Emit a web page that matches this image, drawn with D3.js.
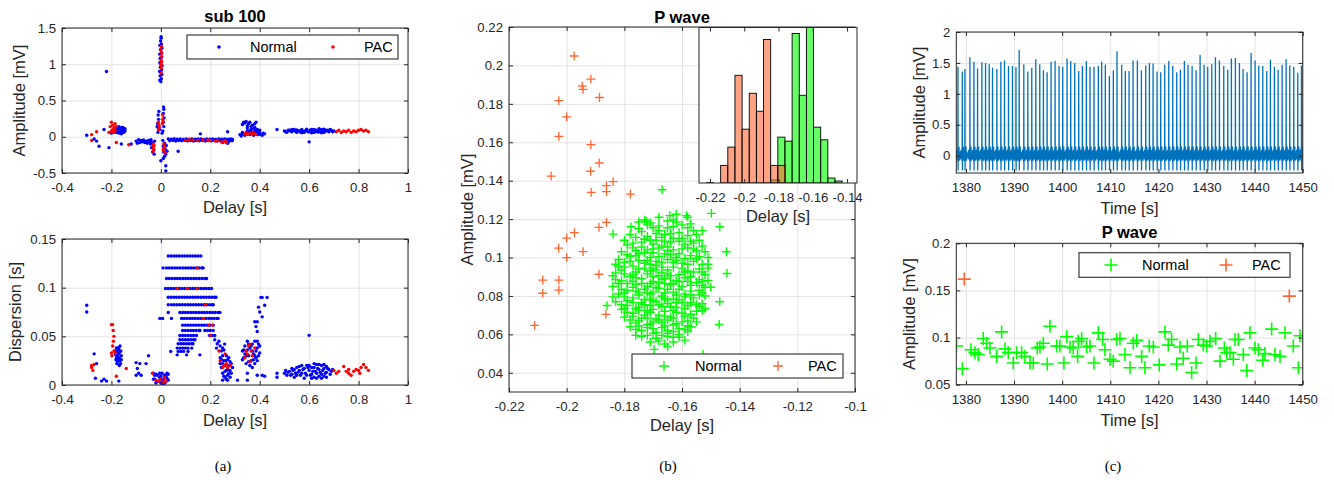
<!DOCTYPE html>
<html>
<head>
<meta charset="utf-8">
<script src="https://cdn.jsdelivr.net/npm/d3@7"></script>
<style>
  body { margin: 0; background: #fff; }
  text { font-family: "Liberation Sans", Arial, Helvetica, sans-serif; }
</style>
</head>
<body>
<div class="content"></div>
<script>
// ---------- data: panel (a) top, amplitude vs delay ----------
const aTopNormal = [
  [-0.004,0.78],[0.002,0.8],[-0.003,0.84],[0.004,0.86],[-0.005,0.9],[0.003,0.92],[-0.002,0.96],[0.005,0.98],
  [-0.004,1.02],[0.002,1.04],[-0.003,1.08],[0.004,1.1],[-0.005,1.14],[0.003,1.16],[-0.002,1.2],[0.004,1.22],
  [-0.004,1.26],[0.002,1.28],[-0.001,1.32],[0.001,1.36],[0,0.76],[0.001,1.38],
  [-0.012,0.06],[-0.01,0.12],[-0.013,0.18],[-0.009,0.24],[-0.011,0.3],[-0.008,0.35],[0.008,0.08],[0.012,0.14],
  [0.01,0.2],[0.013,0.26],[0.01,0.32],[0.012,0.38],[0.011,0.41],[-0.005,0.1],[0.005,0.05],[-0.015,0.14],
  [-0.04,-0.04],[-0.035,-0.08],[-0.03,-0.12],[-0.038,-0.15],[-0.028,-0.18],[-0.033,-0.21],[-0.027,-0.24],[-0.042,-0.1],[-0.025,-0.06],
  [0.008,-0.05],[0.015,-0.09],[0.01,-0.13],[0.018,-0.17],[0.012,-0.21],[0.02,-0.24],[0.015,-0.27],[0.022,-0.12],
  [0.025,-0.2],[0,-0.33],[0.02,-0.4],[0.02,-0.47],[0.01,-0.3],
  [0.03,-0.03],[0.042,-0.035],[0.054,-0.028],[0.066,-0.033],[0.078,-0.03],[0.09,-0.036],[0.102,-0.031],[0.114,-0.034],
  [0.126,-0.029],[0.138,-0.035],[0.15,-0.032],[0.162,-0.03],[0.174,-0.036],[0.186,-0.031],[0.198,-0.034],[0.21,-0.03],
  [0.222,-0.036],[0.234,-0.032],[0.246,-0.035],[0.258,-0.03],[0.27,-0.034],[0.282,-0.031],[0.29,-0.038],
  [0.036,-0.055],[0.048,-0.05],[0.06,-0.058],[0.072,-0.052],[0.084,-0.056],[0.096,-0.05],[0.108,-0.057],[0.12,-0.053],
  [0.132,-0.058],[0.144,-0.051],[0.156,-0.056],[0.168,-0.052],[0.18,-0.058],[0.192,-0.053],[0.204,-0.057],[0.216,-0.05],
  [0.228,-0.058],[0.24,-0.054],[0.252,-0.06],[0.264,-0.056],[0.276,-0.062],[0.288,-0.055],
  [0.16,0.04],[0.27,0.07],[0.07,-0.2],[0.25,-0.08],[0.27,-0.09],
  [-0.1,-0.06],[-0.09,-0.04],[-0.08,-0.05],[-0.07,-0.045],[-0.06,-0.06],[-0.05,-0.05],[-0.095,-0.09],[-0.085,-0.08],
  [-0.075,-0.07],[-0.065,-0.08],[-0.055,-0.09],[-0.045,-0.07],
  [-0.18,0.06],[-0.175,0.1],[-0.17,0.14],[-0.165,0.08],[-0.16,0.12],[-0.155,0.06],[-0.15,0.1],[-0.17,0.05],
  [-0.16,0.04],[-0.155,0.13],[-0.185,0.12],[-0.145,0.08],[-0.175,0.07],[-0.165,0.11],
  [-0.178,0.09],[-0.172,0.12],[-0.168,0.06],[-0.162,0.1],[-0.158,0.08],[-0.152,0.12],[-0.148,0.1],[-0.17,0.1],
  [-0.16,0.06],[-0.155,0.09],[-0.165,0.13],[-0.175,0.13],[-0.15,0.06],[-0.145,0.11],
  [-0.3,0.02],[-0.27,-0.03],[-0.25,-0.13],[-0.21,-0.15],[-0.16,-0.1],[-0.23,0.1],[-0.22,0.9],[-0.26,-0.06],[-0.12,-0.1],[-0.2,0.05],
  [0.32,0.03],[0.33,0.06],[0.335,0.2],[0.345,0.21],[0.35,0.12],[0.355,0.18],[0.36,0.08],[0.365,0.14],[0.37,0.04],
  [0.375,0.11],[0.38,0.07],[0.385,0.2],[0.39,0.1],[0.395,0.03],[0.4,0.06],[0.41,0.02],[0.42,0.04],[0.325,0.01],
  [0.34,0.02],[0.355,0.05],[0.37,0.16],[0.38,0.13],[0.33,0.17],[0.4,0.09],[0.415,0.05],[0.39,0.06],
  [0.33,0.04],[0.345,0.05],[0.36,0.03],[0.375,0.02],[0.39,0.04],[0.405,0.03],[0.35,0.08],[0.365,0.1],
  [0.37,0.06],[0.385,0.09],[0.34,0.19],[0.36,0.2],[0.38,0.18],[0.35,0.15],
  [0.47,0.1],[0.5,0.08],[0.51,0.06],[0.52,0.09],[0.53,0.07],[0.54,0.1],[0.55,0.06],[0.56,0.08],[0.57,0.1],
  [0.58,0.06],[0.59,0.09],[0.6,0.07],[0.61,0.1],[0.62,0.06],[0.63,0.09],[0.64,0.07],[0.65,0.1],[0.66,0.06],
  [0.67,0.08],[0.68,0.07],[0.69,0.09],[0.7,0.08],[0.525,0.08],[0.545,0.075],[0.565,0.065],[0.585,0.085],
  [0.605,0.095],[0.625,0.075],[0.645,0.085],[0.665,0.095],[0.6,-0.07],
  [0.505,0.07],[0.515,0.09],[0.535,0.09],[0.555,0.085],[0.575,0.075],[0.595,0.07],[0.615,0.08],[0.635,0.065],
  [0.655,0.07],[0.675,0.09],[0.685,0.1],[0.695,0.07],[0.53,0.1],[0.59,0.105],[0.62,0.1],[0.64,0.11],[0.66,0.105],
  [0.55,0.095],[0.57,0.055],[0.61,0.055],[0.65,0.055]
];
const aTopPAC = [
  [0.001,0.88],[0.002,0.94],[0,1],[0.002,1.05],[0.001,1.1],[0.003,1.15],[0,1.2],[0.002,1.25],[0.001,0.98],[0.003,1.03],
  [-0.01,0.1],[-0.008,0.16],[-0.01,0.2],[0.006,0.18],[0.008,0.24],[0.007,0.3],[-0.006,0.13],[0.009,0.21],
  [-0.03,-0.1],[-0.032,-0.14],[-0.029,-0.17],[-0.031,-0.2],[-0.027,-0.12],
  [0.012,-0.1],[0.015,-0.14],[0.01,-0.18],[0.017,-0.22],[0.013,-0.16],
  [0.1,-0.05],[0.13,-0.045],[0.15,-0.05],[0.17,-0.04],[0.19,-0.045],[0.2,-0.05],[0.22,-0.06],[0.23,-0.055],
  [0.245,-0.07],[0.255,-0.065],[0.265,-0.08],[0.26,-0.055],[0.115,-0.04],
  [-0.2,0.2],[-0.195,0.16],[-0.19,0.12],[-0.2,0.08],[-0.185,0.18],[-0.205,0.14],[-0.19,0.06],[-0.195,0.1],
  [-0.18,0.14],[-0.21,0.06],[-0.185,0.09],
  [-0.28,0.03],[-0.28,-0.05],[-0.26,0.07],[-0.18,-0.08],[-0.13,-0.11],
  [0.34,0.04],[0.35,0.03],[0.36,0.05],[0.37,0.04],[0.385,0.03],[0.345,0.06],[0.375,0.05],
  [0.71,0.07],[0.72,0.09],[0.73,0.06],[0.74,0.08],[0.75,0.07],[0.76,0.09],[0.77,0.06],[0.78,0.08],
  [0.79,0.07],[0.8,0.09],[0.81,0.1],[0.82,0.08],[0.83,0.09],[0.84,0.07]
];

// ---------- data: panel (a) bottom, dispersion vs delay ----------
const aBotNormal = [
  [-0.3,0.082],[-0.3,0.075],[-0.27,0.032],[-0.26,0.022],[-0.265,0.007],[-0.24,0.004],[-0.23,0.006],[-0.22,0.004],[-0.17,0.004],
  [-0.185,0.035],[-0.18,0.028],[-0.175,0.038],[-0.17,0.032],[-0.165,0.025],[-0.16,0.03],[-0.178,0.022],[-0.168,0.02],
  [-0.172,0.036],[-0.162,0.035],[-0.175,0.03],[-0.182,0.026],[-0.165,0.04],
  [-0.183,0.031],[-0.178,0.034],[-0.173,0.026],[-0.168,0.028],[-0.163,0.022],[-0.17,0.038],[-0.176,0.024],
  [-0.16,0.026],[-0.166,0.034],[-0.18,0.038],
  [-0.1,0.023],[-0.095,0.017],[-0.09,0.012],[-0.085,0.022],[-0.08,0.01],[-0.1,0.01],[-0.05,0.03],[-0.06,0.022],
  [-0.03,0.012],[-0.025,0.006],[-0.02,0.002],[-0.015,0.01],[-0.01,0.004],[-0.005,0.008],[0,0.002],[0.005,0.012],
  [0.01,0.006],[0.015,0.01],[0.02,0.003],[0.025,0.012],[0.03,0.005],[-0.02,0.011],[0.01,0.001],
  [-0.025,0.01],[-0.015,0.004],[-0.005,0.012],[0.005,0.004],[0.015,0.002],[0.025,0.007],[-0.03,0.006],[0,0.009],
  [0.02,0.009],[0.03,0.011],
  [0.235,0.045],[0.24,0.04],[0.245,0.035],[0.25,0.03],[0.24,0.028],[0.255,0.025],[0.26,0.02],[0.265,0.015],
  [0.27,0.01],[0.275,0.02],[0.28,0.015],[0.285,0.022],[0.29,0.018],[0.25,0.012],[0.26,0.008],[0.27,0.005],
  [0.255,0.036],[0.265,0.03],[0.275,0.028],[0.245,0.018],[0.258,0.042],[0.28,0.008],[0.24,0.022],[0.25,0.005],[0.262,0.025],
  [0.25,0.022],[0.26,0.014],[0.27,0.016],[0.28,0.024],[0.265,0.006],[0.255,0.009],[0.285,0.012],[0.27,0.026],
  [0.245,0.026],[0.25,0.038],[0.275,0.012],
  [0.33,0.035],[0.335,0.028],[0.34,0.04],[0.345,0.022],[0.35,0.045],[0.355,0.03],[0.36,0.038],[0.365,0.025],
  [0.37,0.042],[0.375,0.032],[0.38,0.045],[0.385,0.028],[0.39,0.038],[0.395,0.03],[0.34,0.032],[0.36,0.02],
  [0.38,0.022],[0.33,0.026],[0.37,0.018],[0.35,0.036],[0.39,0.045],[0.4,0.04],
  [0.345,0.03],[0.355,0.024],[0.365,0.04],[0.375,0.026],[0.385,0.035],[0.395,0.042],[0.37,0.035],[0.38,0.03],
  [0.39,0.025],[0.4,0.033],[0.355,0.042],[0.335,0.036],
  [0.39,0.055],[0.385,0.06],[0.39,0.065],[0.4,0.075],[0.395,0.08],[0.405,0.09],[0.41,0.09],[0.43,0.09],[0.42,0.082],
  [0.41,0.07],[0.38,0.065],
  [0.35,0.012],[0.39,0.01],[0.41,0.01],[0.42,0.009],[0.35,0.005],[0.31,0.005],[0.47,0.012],[0.47,0.008],
  [0.5,0.012],[0.51,0.01],[0.52,0.014],[0.53,0.011],[0.54,0.016],[0.55,0.01],[0.56,0.015],[0.57,0.012],
  [0.58,0.017],[0.59,0.01],[0.6,0.015],[0.61,0.011],[0.62,0.018],[0.63,0.012],[0.64,0.016],[0.65,0.011],
  [0.66,0.017],[0.67,0.013],[0.68,0.016],[0.69,0.014],[0.54,0.008],[0.56,0.019],[0.58,0.007],[0.6,0.02],
  [0.62,0.008],[0.63,0.021],[0.64,0.009],[0.65,0.02],[0.66,0.009],[0.67,0.019],[0.6,0.051],[0.555,0.013],
  [0.595,0.018],[0.615,0.014],[0.635,0.017],[0.655,0.015],
  [0.505,0.015],[0.515,0.013],[0.525,0.01],[0.535,0.015],[0.545,0.012],[0.565,0.01],[0.575,0.016],[0.585,0.012],
  [0.605,0.01],[0.625,0.014],[0.645,0.013],[0.665,0.012],[0.675,0.017],[0.685,0.011],[0.695,0.016],[0.57,0.02],
  [0.59,0.02],[0.61,0.018],[0.61,0.007],[0.63,0.007],[0.65,0.007],[0.67,0.008],[0.62,0.022],[0.64,0.021],
  [0.66,0.021],[0.55,0.018],[0.53,0.017]
];
// the quantised "tower" of dispersion levels: [dispersion, delays on that level]
const aBotTowerRows = [
  [0.1326,[0.03,0.041,0.052,0.063,0.074,0.085,0.096,0.107,0.118,0.129,0.14,0.151,0.162]],
  [0.1203,[0.009,0.023,0.034,0.045,0.056,0.067,0.078,0.089,0.1,0.111,0.122,0.133,0.144,0.155,0.166,0.171]],
  [0.1094,[0.023,0.034,0.045,0.056,0.067,0.078,0.089,0.1,0.111,0.122,0.133,0.144,0.155,0.166,0.177,0.185]],
  [0.0991,[0.019,0.03,0.041,0.052,0.063,0.074,0.085,0.096,0.107,0.118,0.129,0.14,0.151,0.162,0.173,0.184,0.195,0.205]],
  [0.0902,[0.03,0.041,0.052,0.063,0.074,0.085,0.096,0.107,0.118,0.129,0.14,0.151,0.162,0.173,0.184,0.195,0.206,0.217,0.223]],
  [0.0824,[0.03,0.043,0.054,0.065,0.076,0.087,0.098,0.109,0.12,0.131,0.142,0.153,0.164,0.175,0.186,0.197,0.208,0.212]],
  [0.0745,[0.03,0.077,0.088,0.099,0.11,0.121,0.132,0.143,0.154,0.165,0.176,0.187,0.198,0.209,0.22,0.231,0.239]],
  [0.0684,[-0.004,0.007,0.043,0.084,0.095,0.106,0.117,0.128,0.139,0.15,0.161,0.172,0.183,0.194,0.205,0.216,0.227,0.232]],
  [0.0615,[0.088,0.099,0.11,0.121,0.132,0.143,0.154,0.165,0.176,0.187,0.198,0.212]],
  [0.056,[0.088,0.099,0.11,0.121,0.132,0.143,0.154,0.158,0.178,0.189,0.2,0.212]],
  [0.0509,[0.077,0.088,0.099,0.11,0.121,0.132,0.144,0.197,0.208,0.218]],
  [0.0465,[0.077,0.088,0.099,0.11,0.121,0.132,0.138,0.218]],
  [0.0424,[0.07,0.081,0.092,0.103,0.114,0.125,0.13,0.228]],
  [0.0379,[0.066,0.077,0.088,0.099,0.11,0.125,0.225]],
  [0.0345,[0.04,0.07,0.081,0.092,0.11]],
  [0.031,[0.066,0.104,0.158]]
];
const aBotPAC = [
  [0.24,0.025],[0.255,0.02],[0.265,0.022],[0.27,0.018],[0.26,0.032],[0.28,0.02],[0.25,0.018],
  [0.34,0.028],[0.35,0.032],[0.355,0.04],[0.36,0.042],[0.365,0.035],[0.37,0.03],[0.38,0.038],[0.36,0.024],[0.345,0.035],
  [0.7,0.015],[0.71,0.012],[0.72,0.014],[0.74,0.019],[0.75,0.014],[0.76,0.012],[0.77,0.01],[0.78,0.014],
  [0.79,0.016],[0.8,0.015],[0.81,0.018],[0.82,0.021],[0.83,0.018],[0.84,0.015],[0.76,0.016],[0.805,0.012],
  [-0.034,0.012],[-0.02,0.005],[-0.01,0.004],[0,0.006],[0.01,0.003],[0.015,0.008],[0.02,0.004],
  [-0.2,0.062],[-0.195,0.062],[-0.193,0.056],[-0.19,0.05],[-0.192,0.045],[-0.195,0.04],[-0.2,0.033],[-0.19,0.035],
  [-0.198,0.03],[-0.185,0.033],
  [-0.28,0.018],[-0.275,0.015],[-0.28,0.02],[-0.27,0.021],[-0.14,0.017],[-0.18,0.009],
  [0.066,0.0991],[0.107,0.0991],[0.146,0.0991],[0.147,0.1203],[0.181,0.0824],[0.171,0.0684],[0.194,0.0615],
  [0.209,0.0615],[0.2,0.0509],[0.235,0.035]
];

// ---------- data: panel (b), P wave amplitude vs delay ----------
const bNormal = [
  [-0.171,0.118],[-0.165,0.119],[-0.16,0.117],[-0.158,0.121],[-0.168,0.121],
  [-0.175,0.115],[-0.168,0.114],[-0.163,0.116],[-0.156,0.114],[-0.161,0.113],[-0.172,0.117],
  [-0.178,0.112],[-0.172,0.111],[-0.166,0.112],[-0.16,0.11],[-0.155,0.112],[-0.169,0.109],[-0.163,0.11],
  [-0.18,0.109],[-0.174,0.108],[-0.17,0.107],[-0.164,0.108],[-0.159,0.107],[-0.154,0.109],[-0.167,0.106],
  [-0.177,0.105],[-0.172,0.104],[-0.168,0.105],[-0.163,0.104],[-0.158,0.105],[-0.153,0.106],[-0.175,0.102],[-0.161,0.102],
  [-0.181,0.103],[-0.176,0.101],[-0.171,0.1],[-0.166,0.102],[-0.162,0.1],[-0.157,0.101],[-0.152,0.103],[-0.169,0.098],
  [-0.182,0.099],[-0.178,0.098],[-0.173,0.097],[-0.169,0.096],[-0.165,0.099],[-0.16,0.097],[-0.156,0.098],[-0.151,0.1],[-0.167,0.095],
  [-0.18,0.095],[-0.175,0.094],[-0.171,0.093],[-0.167,0.092],[-0.163,0.095],[-0.158,0.093],[-0.154,0.094],[-0.177,0.091],[-0.161,0.091],
  [-0.183,0.092],[-0.178,0.09],[-0.174,0.089],[-0.17,0.09],[-0.166,0.089],[-0.162,0.088],[-0.157,0.09],[-0.152,0.091],[-0.168,0.087],
  [-0.181,0.088],[-0.176,0.086],[-0.172,0.085],[-0.168,0.084],[-0.164,0.086],[-0.16,0.085],[-0.155,0.087],[-0.151,0.088],[-0.17,0.082],
  [-0.184,0.085],[-0.179,0.083],[-0.175,0.082],[-0.171,0.081],[-0.167,0.08],[-0.163,0.082],[-0.159,0.081],[-0.154,0.083],[-0.165,0.078],
  [-0.182,0.081],[-0.177,0.079],[-0.173,0.078],[-0.169,0.077],[-0.165,0.076],[-0.161,0.078],[-0.156,0.079],[-0.152,0.08],[-0.171,0.075],
  [-0.183,0.077],[-0.179,0.075],[-0.175,0.074],[-0.17,0.073],[-0.166,0.072],[-0.162,0.074],[-0.158,0.075],[-0.153,0.076],[-0.168,0.07],
  [-0.181,0.073],[-0.177,0.071],[-0.173,0.07],[-0.169,0.068],[-0.164,0.069],[-0.16,0.071],[-0.155,0.072],[-0.175,0.067],
  [-0.18,0.069],[-0.176,0.066],[-0.172,0.065],[-0.167,0.066],[-0.163,0.065],[-0.158,0.067],[-0.17,0.063],
  [-0.178,0.064],[-0.174,0.062],[-0.169,0.061],[-0.165,0.062],[-0.161,0.063],[-0.157,0.064],
  [-0.174,0.059],[-0.169,0.058],[-0.165,0.059],[-0.161,0.06],[-0.171,0.056],[-0.166,0.055],[-0.163,0.056],[-0.159,0.057],
  [-0.168,0.1165],[-0.162,0.1185],[-0.174,0.1135],[-0.165,0.1155],[-0.158,0.1155],[-0.153,0.114],
  [-0.176,0.1105],[-0.169,0.1125],[-0.158,0.1115],[-0.164,0.1125],
  [-0.177,0.1075],[-0.171,0.109],[-0.166,0.1085],[-0.161,0.1085],[-0.156,0.1075],
  [-0.179,0.1065],[-0.174,0.1055],[-0.165,0.1055],[-0.16,0.1045],[-0.155,0.1035],[-0.17,0.1025],
  [-0.179,0.1015],[-0.173,0.1025],[-0.168,0.1005],[-0.164,0.1015],[-0.159,0.0995],[-0.154,0.1005],
  [-0.18,0.0975],[-0.175,0.0985],[-0.171,0.0965],[-0.167,0.0975],[-0.162,0.0985],[-0.158,0.0965],[-0.153,0.0965],
  [-0.182,0.0955],[-0.177,0.0955],[-0.173,0.0945],[-0.169,0.0935],[-0.165,0.0935],[-0.16,0.0945],[-0.156,0.0925],[-0.151,0.0945],
  [-0.18,0.0915],[-0.176,0.0895],[-0.172,0.0915],[-0.168,0.0905],[-0.164,0.0905],[-0.159,0.0895],[-0.154,0.0885],
  [-0.183,0.0885],[-0.179,0.0865],[-0.174,0.0865],[-0.17,0.0875],[-0.166,0.0865],[-0.161,0.0875],[-0.157,0.0855],[-0.153,0.0855],
  [-0.181,0.0835],[-0.177,0.0845],[-0.173,0.0835],[-0.169,0.0845],[-0.165,0.0835],[-0.161,0.0835],[-0.157,0.0825],[-0.152,0.0845],
  [-0.18,0.0795],[-0.175,0.0805],[-0.171,0.0785],[-0.167,0.0795],[-0.163,0.0785],[-0.159,0.0795],[-0.154,0.0805],
  [-0.181,0.0755],[-0.177,0.0765],[-0.173,0.0755],[-0.168,0.0755],[-0.164,0.0745],[-0.16,0.0765],[-0.155,0.0755],
  [-0.179,0.0715],[-0.175,0.0725],[-0.171,0.0715],[-0.166,0.0695],[-0.162,0.0715],[-0.157,0.0705],[-0.153,0.0725],
  [-0.178,0.0675],[-0.174,0.0685],[-0.17,0.0665],[-0.165,0.0675],[-0.16,0.0665],[-0.156,0.0685],
  [-0.176,0.0625],[-0.172,0.0635],[-0.167,0.0635],[-0.163,0.0615],[-0.159,0.0625],
  [-0.172,0.0595],[-0.167,0.0595],[-0.163,0.0585],[-0.168,0.0565],
  [-0.17,0.1155],[-0.163,0.1195],[-0.157,0.1175],[-0.173,0.1095],[-0.167,0.1105],[-0.157,0.1085],[-0.176,0.1035],
  [-0.17,0.1045],[-0.165,0.1035],[-0.156,0.1045],[-0.178,0.1005],[-0.172,0.0985],[-0.163,0.0975],[-0.155,0.0995],
  [-0.181,0.0935],[-0.176,0.0925],[-0.17,0.0945],[-0.165,0.0915],[-0.159,0.0925],[-0.153,0.0925],[-0.182,0.0865],
  [-0.177,0.0875],[-0.171,0.0865],[-0.167,0.0885],[-0.163,0.0865],[-0.158,0.0875],[-0.153,0.0875],[-0.18,0.0815],
  [-0.176,0.0825],[-0.172,0.0815],[-0.166,0.0815],[-0.162,0.0805],[-0.157,0.0805],[-0.153,0.0815],[-0.179,0.0775],
  [-0.174,0.0765],[-0.17,0.0775],[-0.166,0.0785],[-0.162,0.0765],[-0.157,0.0765],[-0.18,0.0735],[-0.176,0.0735],
  [-0.172,0.0725],[-0.167,0.0745],[-0.163,0.0725],[-0.159,0.0735],[-0.154,0.0745],[-0.177,0.0695],[-0.172,0.0685],
  [-0.168,0.0675],[-0.163,0.0685],[-0.159,0.0695],[-0.175,0.0645],[-0.171,0.0655],[-0.166,0.0645],[-0.162,0.0655],
  [-0.158,0.0645],[-0.17,0.0605],[-0.165,0.0605],[-0.161,0.0585],[-0.173,0.1195],[-0.151,0.0965],[-0.15,0.0845],
  [-0.184,0.0905],[-0.184,0.0795],[-0.183,0.0965],[-0.152,0.0735],[-0.155,0.0665],[-0.158,0.0615],[-0.176,0.0595],
  [-0.165,0.0535],[-0.186,0.075],[-0.162,0.1225],[-0.175,0.1185],
  [-0.1669,0.1353],[-0.1498,0.123],[-0.1469,0.116],[-0.1446,0.103],[-0.1444,0.0917],[-0.1469,0.077],[-0.1471,0.0652],
  [-0.1697,0.0522],[-0.1839,0.1122],[-0.1777,0.116],[-0.1723,0.1188],[-0.1527,0.0496],[-0.1585,0.1218],[-0.1642,0.1218]
];
const bPAC = [
  [-0.1974,0.2049],[-0.1916,0.1929],[-0.1946,0.1892],[-0.1943,0.1875],[-0.1886,0.1833],[-0.2027,0.1817],[-0.2,0.1732],
  [-0.2027,0.1631],[-0.1916,0.1588],[-0.1887,0.1492],[-0.1917,0.1449],[-0.2054,0.1424],[-0.1839,0.1395],[-0.1862,0.1374],
  [-0.1915,0.1339],[-0.1862,0.1343],[-0.1779,0.133],[-0.1862,0.1183],[-0.1888,0.1157],[-0.1973,0.113],[-0.2,0.1101],
  [-0.1943,0.1031],[-0.2028,0.1049],[-0.2,0.1],[-0.1888,0.0913],[-0.2083,0.0882],[-0.2027,0.0882],[-0.2027,0.083],
  [-0.2083,0.0814],[-0.1864,0.0704],[-0.2111,0.0647]
];
// inset histogram of delays (bar heights in relative counts)
const histStart = -0.2221;
const histBinWidth = 0.00417;
const histNormal = [0,0,0,0,0,0,0,0,0,9,138,126,450,264,480,168,130,15,6];
const histPAC    = [1,0,53,108,324,162,270,216,432,53,53,0,0,0,0,0,0,0,0];

// ---------- data: panel (c) top, ECG ----------
const ecgBeatTimes = [1378.34,1379.24,1379.79,1380.83,1381.66,1382.42,1383.32,1384.08,1384.84,1385.53,1386.43,1387.26,1388.02,1388.85,1389.68,1390.4,1391.07,1392.03,1392.86,1393.69,1394.52,1395.35,1396.11,1396.87,1397.7,1398.53,1399.36,1400.12,1401.02,1401.78,1402.61,1403.44,1404.21,1405.03,1405.79,1406.62,1407.52,1408.22,1408.98,1409.81,1410.64,1411.4,1412.37,1413.13,1413.91,1414.74,1415.64,1416.47,1417.37,1418.14,1418.9,1419.73,1420.49,1421.32,1422.16,1422.99,1423.82,1424.58,1425.41,1426.17,1427.01,1427.84,1428.67,1429.5,1430.26,1431.1,1431.86,1432.69,1433.59,1434.42,1435.18,1436.01,1436.85,1437.61,1438.44,1439.27,1440.1,1440.87,1441.7,1442.53,1443.29,1444.12,1444.89,1445.72,1446.55,1447.31,1448.14,1448.97,1449.74];
const ecgRPeaks = [1.44,1.36,1.4,1.59,1.52,1.41,1.51,1.5,1.48,1.42,1.4,1.52,1.54,1.45,1.45,1.43,1.71,1.48,1.36,1.42,1.56,1.48,1.38,1.35,1.52,1.53,1.45,1.44,1.57,1.53,1.5,1.37,1.45,1.53,1.44,1.44,1.45,1.52,1.47,1.29,1.38,1.69,1.47,1.37,1.37,1.54,1.54,1.38,1.46,1.5,1.49,1.36,1.35,1.47,1.53,1.45,1.35,1.39,1.53,1.47,1.45,1.38,1.63,1.47,1.44,1.48,1.59,1.54,1.45,1.39,1.57,1.58,1.5,1.4,1.35,1.66,1.54,1.46,1.45,1.37,1.55,1.44,1.39,1.47,1.56,1.46,1.44,1.34,1.46];
// samples around each R peak: [seconds from R peak, mV]; null marks the R peak itself
const ecgBeatShape = [[-0.41,0.01],[-0.37,-0.05],[-0.33,0.07],[-0.29,-0.03],[-0.25,0.09],[-0.21,-0.06],[-0.17,0.05],
  [-0.13,-0.02],[-0.09,0.12],[-0.05,-0.04],[-0.02,-0.1],[0,null],[0.03,-0.24],[0.06,0.04],[0.1,-0.07],[0.14,0.08],
  [0.18,-0.03],[0.22,0.15],[0.26,-0.05],[0.3,0.07],[0.34,-0.08],[0.38,0.05]];

// ---------- data: panel (c) bottom, P wave amplitude vs time ----------
const pNormalTime = [1378.06,1379.24,1381.04,1381.87,1382.56,1383.6,1384.3,1384.99,1386.38,1387.42,1388.11,1388.8,1389.84,1390.53,1391.57,1392.27,1393.31,1394,1394.83,1395.38,1396.08,1396.91,1397.46,1398.85,1399.54,1400.37,1400.93,1401.62,1402.31,1403.22,1403.35,1404.05,1405.09,1405.78,1406.61,1407.51,1408.41,1408.9,1409.94,1410.63,1411.32,1412.02,1413.06,1414.1,1414.79,1415.48,1416.52,1417.21,1418.11,1418.95,1420.19,1421.37,1422.06,1422.76,1423.8,1424.49,1425.18,1426.01,1426.92,1427.82,1428.3,1429.34,1430.03,1430.73,1431.91,1432.81,1433.71,1434.19,1434.89,1435.58,1435.93,1436.62,1437.66,1438.35,1439.04,1440.08,1440.78,1441.68,1442.16,1443.55,1444.24,1445.28,1446.32,1448.05,1449.09,1449.44];
const pNormalAmp = [0.091,0.067,0.087,0.084,0.082,0.099,0.094,0.089,0.08,0.106,0.088,0.084,0.073,0.084,0.084,0.08,0.073,0.073,0.089,0.09,0.094,0.072,0.112,0.091,0.091,0.073,0.101,0.09,0.089,0.08,0.096,0.099,0.09,0.091,0.073,0.105,0.098,0.087,0.077,0.075,0.098,0.099,0.082,0.068,0.094,0.097,0.08,0.068,0.091,0.09,0.071,0.106,0.092,0.098,0.072,0.09,0.078,0.091,0.063,0.073,0.098,0.092,0.091,0.096,0.099,0.075,0.089,0.084,0.084,0.077,0.098,0.098,0.082,0.065,0.105,0.089,0.087,0.076,0.083,0.109,0.082,0.08,0.105,0.091,0.068,0.102];
const pPacTime = [1379.65,1447.22];
const pPacAmp = [0.162,0.144];

// ---------- ticks ----------
const delayTicksA = [-0.4,-0.2,0,0.2,0.4,0.6,0.8,1];
const ampTicksA = [-0.5,0,0.5,1,1.5];
const dispTicksA = [0,0.05,0.1,0.15];
const delayTicksB = [-0.22,-0.2,-0.18,-0.16,-0.14,-0.12,-0.1];
const ampTicksB = [0.04,0.06,0.08,0.1,0.12,0.14,0.16,0.18,0.2,0.22];
const delayTicksInset = [-0.22,-0.2,-0.18,-0.16,-0.14];
const timeTicks = [1380,1390,1400,1410,1420,1430,1440,1450];
const ecgTicks = [0,0.5,1,1.5,2];
const pAmpTicks = [0.05,0.1,0.15,0.2];

// ---------- drawing ----------
const ink = "#262626";
const blue = "#0000ff", red = "#ff0000", green = "#00ff00", orange = "#ff6633", ecgBlue = "#0072bd";
const tickFont = 13.2, labelFont = 16.5;

const svg = d3.select(".content").append("svg").attr("width", 1334).attr("height", 480);
let clipCount = 0;

function fmt(d) { return String(+d.toFixed(4)); }
function plusPath(s) { return `M${-s},0H${s}M0,${-s}V${s}`; }

function makePanel(o) {
  const x = d3.scaleLinear().domain(o.xDomain).range([o.left, o.right]);
  const y = d3.scaleLinear().domain(o.yDomain).range([o.bottom, o.top]);
  const w = o.right - o.left, h = o.bottom - o.top;
  svg.append("rect").attr("x", o.left).attr("y", o.top).attr("width", w).attr("height", h).attr("fill", "#fff");
  if (o.grid) {
    svg.append("g").attr("transform", `translate(0,${o.bottom})`)
      .call(d3.axisBottom(x).tickValues(o.xTicks).tickSize(-h).tickFormat(""))
      .call(g => { g.select(".domain").remove(); g.selectAll("line").attr("stroke", "#e3e3e3"); });
    svg.append("g").attr("transform", `translate(${o.left},0)`)
      .call(d3.axisLeft(y).tickValues(o.yTicks).tickSize(-w).tickFormat(""))
      .call(g => { g.select(".domain").remove(); g.selectAll("line").attr("stroke", "#e3e3e3"); });
  }
  const id = "clip" + clipCount++;
  svg.append("clipPath").attr("id", id).append("rect")
    .attr("x", o.left).attr("y", o.top).attr("width", w).attr("height", h);
  const plot = svg.append("g").attr("clip-path", `url(#${id})`);
  return { x, y, plot, o };
}

function finishPanel(p) {
  const { x, y, o } = p;
  const t = 4;
  svg.append("g").attr("transform", `translate(0,${o.bottom})`)
    .call(d3.axisBottom(x).tickValues(o.xTicks).tickSize(-t).tickPadding(o.xPad || 10).tickFormat(fmt))
    .call(g => { g.select(".domain").remove(); g.attr("color", ink).attr("font-size", tickFont); });
  svg.append("g").attr("transform", `translate(0,${o.top})`)
    .call(d3.axisTop(x).tickValues(o.xTicks).tickSize(-t).tickFormat(""))
    .call(g => { g.select(".domain").remove(); g.attr("color", ink); });
  if (o.yTicks.length) {
    svg.append("g").attr("transform", `translate(${o.left},0)`)
      .call(d3.axisLeft(y).tickValues(o.yTicks).tickSize(-t).tickPadding(6).tickFormat(fmt))
      .call(g => { g.select(".domain").remove(); g.attr("color", ink).attr("font-size", tickFont); });
    svg.append("g").attr("transform", `translate(${o.right},0)`)
      .call(d3.axisRight(y).tickValues(o.yTicks).tickSize(-t).tickFormat(""))
      .call(g => { g.select(".domain").remove(); g.attr("color", ink); });
  }
  svg.append("rect").attr("x", o.left).attr("y", o.top)
    .attr("width", o.right - o.left).attr("height", o.bottom - o.top)
    .attr("fill", "none").attr("stroke", ink).attr("stroke-width", 1);
  const cx = (o.left + o.right) / 2, cy = (o.top + o.bottom) / 2;
  svg.append("text").attr("x", cx).attr("y", o.xLabelY).attr("text-anchor", "middle")
    .attr("dominant-baseline", "central").attr("font-size", labelFont).attr("fill", ink).text(o.xLabel);
  if (o.yLabel) {
    svg.append("text").attr("transform", `translate(${o.yLabelX},${cy}) rotate(-90)`)
      .attr("text-anchor", "middle").attr("dominant-baseline", "central")
      .attr("font-size", labelFont).attr("fill", ink).text(o.yLabel);
  }
  if (o.title) {
    svg.append("text").attr("x", cx).attr("y", o.titleY).attr("text-anchor", "middle")
      .attr("dominant-baseline", "central").attr("font-size", 16.5).attr("font-weight", "bold")
      .attr("fill", "#000").text(o.title);
  }
}

function dots(p, data, color) {
  p.plot.selectAll(null).data(data).join("circle")
    .attr("cx", d => p.x(d[0])).attr("cy", d => p.y(d[1])).attr("r", 1.7).attr("fill", color);
}
function pluses(p, data, color, size, width) {
  p.plot.selectAll(null).data(data).join("path")
    .attr("transform", d => `translate(${p.x(d[0])},${p.y(d[1])})`)
    .attr("d", plusPath(size)).attr("stroke", color).attr("stroke-width", width).attr("fill", "none");
}

function legend(box, items) {
  const g = svg.append("g");
  g.append("rect").attr("x", box.x).attr("y", box.y).attr("width", box.w).attr("height", box.h)
    .attr("fill", "#fff").attr("stroke", "#3c3c3c").attr("stroke-width", 1.2);
  const cy = box.y + box.h / 2;
  items.forEach(it => {
    if (it.kind === "dot") {
      g.append("circle").attr("cx", it.mx).attr("cy", cy).attr("r", 1.8).attr("fill", it.color);
    } else {
      g.append("path").attr("transform", `translate(${it.mx},${cy})`).attr("d", plusPath(it.size))
        .attr("stroke", it.color).attr("stroke-width", it.width).attr("fill", "none");
    }
    g.append("text").attr("x", it.tx).attr("y", cy).attr("dominant-baseline", "central")
      .attr("font-size", 14.5).attr("fill", "#000").text(it.label);
  });
}

// ----- (a) top -----
const pA1 = makePanel({ left: 62, right: 408, top: 28, bottom: 173, xDomain: [-0.4, 1], yDomain: [-0.5, 1.5],
  xTicks: delayTicksA, yTicks: ampTicksA, grid: true, xLabel: "Delay [s]", xLabelY: 207,
  yLabel: "Amplitude [mV]", yLabelX: 19, title: "sub 100", titleY: 16 });
dots(pA1, aTopNormal, blue);
dots(pA1, aTopPAC, red);
finishPanel(pA1);
legend({ x: 187, y: 35, w: 211, h: 24 }, [
  { kind: "dot", color: blue, mx: 219, tx: 250, label: "Normal" },
  { kind: "dot", color: red, mx: 333, tx: 364, label: "PAC" }]);

// ----- (a) bottom -----
const pA2 = makePanel({ left: 62, right: 408, top: 239, bottom: 385, xDomain: [-0.4, 1], yDomain: [0, 0.15],
  xTicks: delayTicksA, yTicks: dispTicksA, grid: true, xLabel: "Delay [s]", xLabelY: 420,
  yLabel: "Dispersion [s]", yLabelX: 15 });
const towerPoints = aBotTowerRows.flatMap(([lvl, xs]) => xs.map(v => [v, lvl]));
dots(pA2, aBotNormal.concat(towerPoints), blue);
dots(pA2, aBotPAC, red);
finishPanel(pA2);

// ----- (b) -----
const pB = makePanel({ left: 509, right: 855, top: 27, bottom: 392, xDomain: [-0.22, -0.1], yDomain: [0.03, 0.22],
  xTicks: delayTicksB, yTicks: ampTicksB, grid: true, xLabel: "Delay [s]", xLabelY: 425,
  yLabel: "Amplitude [mV]", yLabelX: 467, title: "P wave", titleY: 17 });
pluses(pB, bNormal, green, 4.4, 1.4);
pluses(pB, bPAC, orange, 4.4, 1.3);
finishPanel(pB);
legend({ x: 632, y: 354, w: 211, h: 24 }, [
  { kind: "plus", color: green, size: 5, width: 1.3, mx: 664, tx: 695, label: "Normal" },
  { kind: "plus", color: orange, size: 5, width: 1.3, mx: 778, tx: 808, label: "PAC" }]);

// inset histogram
const pIn = makePanel({ left: 699, right: 857, top: 27.5, bottom: 183, xDomain: [-0.2264, -0.1342], yDomain: [0, 468],
  xTicks: delayTicksInset, yTicks: [], grid: false, xLabel: "Delay [s]", xLabelY: 216 });
function bars(p, counts, color, opacity) {
  p.plot.selectAll(null).data(counts.map((c, i) => ({ c, i })).filter(d => d.c > 0)).join("rect")
    .attr("x", d => p.x(histStart + d.i * histBinWidth))
    .attr("width", d => p.x(histStart + (d.i + 1) * histBinWidth) - p.x(histStart + d.i * histBinWidth))
    .attr("y", d => p.y(d.c)).attr("height", d => p.y(0) - p.y(d.c))
    .attr("fill", color).attr("fill-opacity", opacity).attr("stroke", "#000").attr("stroke-width", 0.9);
}
bars(pIn, histNormal, green, 0.6);
bars(pIn, histPAC, orange, 0.6);
finishPanel(pIn);

// ----- (c) top: ECG -----
const pC1 = makePanel({ left: 956.3, right: 1302.7, top: 32, bottom: 173, xDomain: [1378, 1450], yDomain: [-0.28, 2],
  xTicks: timeTicks, yTicks: ecgTicks, grid: true, xLabel: "Time [s]", xLabelY: 208,
  yLabel: "Amplitude [mV]", yLabelX: 919 });
const ecgSamples = ecgBeatTimes.flatMap((bt, i) =>
  ecgBeatShape.map(([dt, v]) => [bt + dt, v === null ? ecgRPeaks[i] : v])).sort((a, b) => a[0] - b[0]);
pC1.plot.append("path").datum(ecgSamples)
  .attr("d", d3.line().x(d => pC1.x(d[0])).y(d => pC1.y(d[1])))
  .attr("fill", "none").attr("stroke", ecgBlue).attr("stroke-width", 1.3);
finishPanel(pC1);

// ----- (c) bottom: P wave amplitude over time -----
const pC2 = makePanel({ left: 956.3, right: 1302.7, top: 243.3, bottom: 384.7, xDomain: [1378, 1450], yDomain: [0.05, 0.2],
  xTicks: timeTicks, yTicks: pAmpTicks, grid: true, xLabel: "Time [s]", xLabelY: 420,
  yLabel: "Amplitude [mV]", yLabelX: 909, title: "P wave", titleY: 231.7 });
pluses(pC2, pNormalTime.map((t, i) => [t, pNormalAmp[i]]), green, 6.5, 1.6);
pluses(pC2, pPacTime.map((t, i) => [t, pPacAmp[i]]), orange, 6.5, 1.6);
finishPanel(pC2);
legend({ x: 1079, y: 252.7, w: 211, h: 24.6 }, [
  { kind: "plus", color: green, size: 6.5, width: 1.6, mx: 1111, tx: 1142, label: "Normal" },
  { kind: "plus", color: orange, size: 6.5, width: 1.6, mx: 1226, tx: 1252, label: "PAC" }]);

// sub-figure captions
[["(a)", 223], ["(b)", 668], ["(c)", 1113]].forEach(([s, x]) => {
  svg.append("text").attr("x", x).attr("y", 466).attr("text-anchor", "middle").attr("dominant-baseline", "central")
    .style("font-family", '"Liberation Serif", "Times New Roman", serif')
    .attr("font-size", 15).attr("fill", "#000").text(s);
});
</script>
</body>
</html>
